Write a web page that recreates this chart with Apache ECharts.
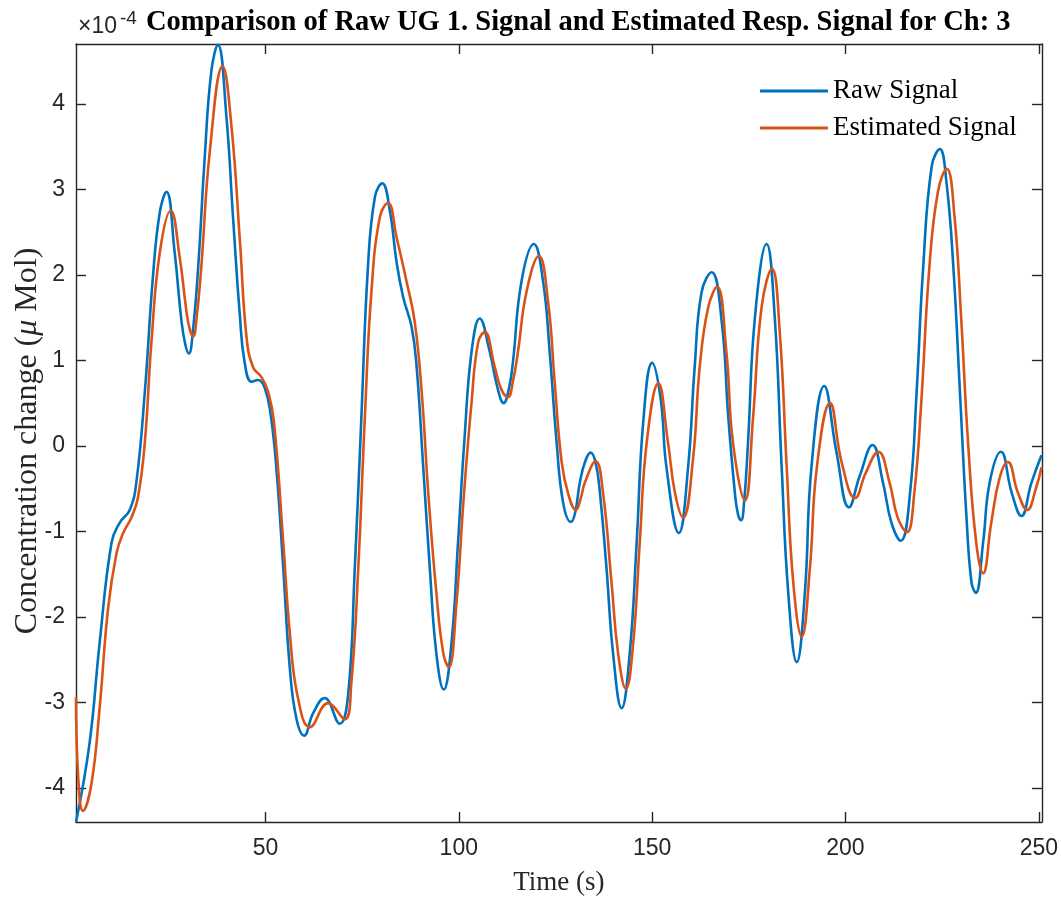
<!DOCTYPE html>
<html>
<head>
<meta charset="utf-8">
<script src="https://cdn.jsdelivr.net/npm/echarts@6/dist/echarts.min.js"></script>
<style>html,body{margin:0;padding:0;background:#fff;}#c{width:1061px;height:905px;}</style>
</head>
<body>
<div id="c"></div>
<script>
// Values are in units of 1e-4 (axis multiplier ×10^-4)
const rawT = [1,4.5,7.1,10.2,12.3,14.9,16.6,18.8,20.9,22.7,24.4,26.5,28.3,29.3,30.2,31.2,32.6,34.3,36.0,37.7,39.9,41.6,43.4,44.6,46.4,48.1,49.8,51.3,52.8,54.6,56.3,58.0,60.0,62.3,65.3,69.2,71.4,73.1,74.8,76.5,78.3,80.2,82.2,83.9,85.6,87.8,89.1,90.8,92.5,94.2,96.1,98.1,99.8,101.5,103.3,105.4,108.0,110.0,111.6,113.0,114.0,116.2,119.4,121.8,123.5,125.3,127.0,129.0,130.1,131.3,132.7,134.1,135.4,136.5,138.2,139.9,142.1,144.2,146.0,147.7,150.0,152.2,153.7,156.9,159.3,161.0,162.8,165.4,168.0,169.7,171.4,172.2,173.0,173.8,174.8,176.6,179.6,181.7,183.5,185.2,187.4,189.5,191.2,194.5,197.7,200.9,203.7,207.0,209.7,211.9,214.3,216.7,218.4,220.1,222.3,224.4,226.1,227.9,229.6,231.3,232.6,233.7,235.6,237.3,240.2,243.0,245.5,248.1,250.7];
const rawV = [-4.40,-3.48,-2.31,-1.13,-0.90,-0.75,-0.43,0.63,1.98,2.74,2.97,2.27,1.45,1.18,1.08,1.33,2.09,3.38,4.38,4.69,3.85,2.68,1.51,0.98,0.75,0.77,0.68,0.38,-0.25,-1.43,-2.60,-3.19,-3.39,-3.13,-2.95,-3.25,-2.90,-1.43,0.33,2.09,2.91,3.07,2.74,2.15,1.74,1.39,0.92,-0.25,-1.43,-2.43,-2.85,-2.31,-1.13,0.10,1.10,1.49,1.10,0.68,0.50,0.68,0.98,1.92,2.36,1.92,1.10,0.04,-0.67,-0.89,-0.78,-0.43,-0.18,-0.08,-0.20,-0.55,-1.43,-2.43,-3.07,-2.43,-1.13,0.28,0.97,0.55,-0.25,-1.02,-0.25,0.92,1.80,2.03,1.45,0.33,-0.55,-0.80,-0.87,-0.65,0.04,1.51,2.36,1.51,-0.25,-1.72,-2.53,-1.72,-0.25,0.70,-0.08,-0.72,-0.35,0.01,-0.43,-0.90,-1.11,-0.55,0.63,2.09,3.27,3.47,3.09,2.09,0.63,-0.84,-1.60,-1.72,-1.13,-0.43,-0.07,-0.55,-0.82,-0.43,-0.11];
const estT = [1,1.6,2.8,5.0,7.1,9.3,11.5,13.2,15.3,17.0,18.8,20.5,22.7,25.5,27.8,29.6,30.5,31.3,32.2,33.4,35.6,38.9,41.2,43.4,45.1,46.8,49.0,50.7,52.2,54.6,56.3,58.4,61.5,66.2,70.5,72.2,74.0,75.7,77.4,79.6,81.7,83.9,86.5,88.6,90.4,92.1,94.2,96.0,97.4,99.4,101.2,103.3,105.0,106.7,109.3,111.0,112.7,114.1,115.3,117.5,120.7,123.1,124.8,126.6,128.4,130.3,131.5,132.6,135.4,137.3,139.5,141.2,143.2,145.1,146.8,148.6,151.6,154.1,155.9,158.0,160.6,162.3,164.5,166.8,169.2,170.9,174.0,176.1,178.3,181.0,183.0,184.8,186.5,188.7,190.8,192.6,196.0,199.0,202.5,205.3,208.5,211.4,213.5,215.9,217.8,219.6,221.7,223.9,226.2,228.2,229.9,231.7,233.8,235.6,237.7,239.9,242.0,244.6,247.0,249.3,250.7];
const estV = [-2.94,-3.90,-4.27,-3.95,-3.07,-1.90,-1.25,-1.02,-0.84,-0.61,0.04,1.21,2.27,2.75,2.21,1.56,1.35,1.28,1.50,2.09,3.44,4.44,3.74,2.39,1.27,0.92,0.80,0.63,0.28,-1.13,-2.19,-2.95,-3.29,-3.01,-3.20,-2.78,-1.43,0.33,1.80,2.68,2.84,2.44,1.92,1.45,0.63,-0.55,-1.72,-2.43,-2.59,-1.84,-0.65,0.51,1.21,1.33,0.92,0.66,0.57,0.78,1.10,1.80,2.22,1.68,0.74,-0.19,-0.58,-0.75,-0.62,-0.43,-0.18,-0.55,-1.60,-2.43,-2.84,-2.31,-1.13,0.04,0.73,0.04,-0.55,-0.84,-0.14,0.92,1.62,1.86,1.10,0.04,-0.64,0.33,1.62,2.07,1.33,-0.25,-1.60,-2.23,-1.43,-0.25,0.50,-0.19,-0.61,-0.31,-0.07,-0.43,-0.84,-1.01,-0.55,0.51,2.09,2.97,3.24,2.68,1.51,0.04,-1.13,-1.49,-0.90,-0.37,-0.19,-0.55,-0.75,-0.49,-0.25];
const xTicks = [50,100,150,200,250];
const yTicks = [-4,-3,-2,-1,0,1,2,3,4];
const seriesNames = ['Raw Signal','Estimated Signal'];
const titleText = 'Comparison of Raw UG 1. Signal and Estimated Resp. Signal for Ch: 3';
const xName = 'Time (s)';
const yName = 'Concentration change ({i|μ} Mol)';

const zip = (t, v) => t.map((x, i) => [x, v[i]]);
const axisCol = '#262626';
const sans = "'Liberation Sans', Arial, sans-serif";
const serif = "'Liberation Serif', 'Times New Roman', serif";
const X_MIN = 1, X_MAX = 250.8, Y_MIN = -4.40, Y_MAX = 4.70;

function xAx(pos, showLabel) {
  return {
    type: 'value', position: pos, min: X_MIN, max: X_MAX,
    axisLine: {show: true, onZero: false, lineStyle: {color: axisCol, width: 1.4}},
    axisTick: {show: true, inside: true, length: 10, customValues: xTicks, lineStyle: {color: axisCol, width: 1.4}},
    axisLabel: {show: showLabel, customValues: xTicks, fontFamily: sans, fontSize: 23, color: axisCol, margin: 15},
    splitLine: {show: false},
    name: showLabel ? xName : '', nameLocation: 'middle', nameGap: 47,
    nameTextStyle: {fontFamily: serif, fontSize: 27, color: axisCol}
  };
}
function yAx(pos, showLabel) {
  return {
    type: 'value', position: pos, min: Y_MIN, max: Y_MAX,
    axisLine: {show: true, onZero: false, lineStyle: {color: axisCol, width: 1.4}},
    axisTick: {show: true, inside: true, length: 10, customValues: yTicks, lineStyle: {color: axisCol, width: 1.4}},
    axisLabel: {show: showLabel, customValues: yTicks, fontFamily: sans, fontSize: 23, color: axisCol, margin: 11},
    splitLine: {show: false}
  };
}

const chart = echarts.init(document.getElementById('c'));
chart.setOption({
  animation: false,
  backgroundColor: '#fff',
  title: {text: titleText, left: 141, top: 3,
    textStyle: {fontFamily: serif, fontSize: 28.5, fontWeight: 'bold', color: '#000'}},
  grid: {left: 76, right: 19, top: 44, bottom: 83, containLabel: false},
  xAxis: [xAx('bottom', true), xAx('top', false)],
  yAxis: [yAx('left', true), yAx('right', false)],
  legend: {
    orient: 'vertical', left: 755, top: 71, itemWidth: 68, itemHeight: 3, itemGap: 7,
    icon: 'rect',
    textStyle: {fontFamily: serif, fontSize: 27, color: '#000', lineHeight: 30},
    data: seriesNames
  },
  graphic: [
    {type: 'text', style: {text: '×10', x: 78, y: 38, textVerticalAlign: 'bottom', font: "23px 'Liberation Sans'", fill: axisCol}},
    {type: 'text', style: {text: '-4', x: 120, y: 28, textVerticalAlign: 'bottom', font: "19px 'Liberation Sans'", fill: axisCol}},
    {type: 'text', x: 28, y: 441, rotation: Math.PI / 2,
      style: {text: yName, align: 'center', verticalAlign: 'middle', fill: axisCol,
        fontFamily: serif, fontSize: 32,
        rich: {i: {fontFamily: serif, fontSize: 32, fontStyle: 'italic', fill: axisCol}}}}
  ],
  series: [
    {name: seriesNames[0], type: 'line', data: zip(rawT, rawV), smooth: 0.45, showSymbol: false,
      lineStyle: {color: '#0072BD', width: 2.6}, itemStyle: {color: '#0072BD'}, clip: true},
    {name: seriesNames[1], type: 'line', data: zip(estT, estV), smooth: 0.45, showSymbol: false,
      lineStyle: {color: '#D95319', width: 2.6}, itemStyle: {color: '#D95319'}, clip: true}
  ]
});
</script>
</body>
</html>
